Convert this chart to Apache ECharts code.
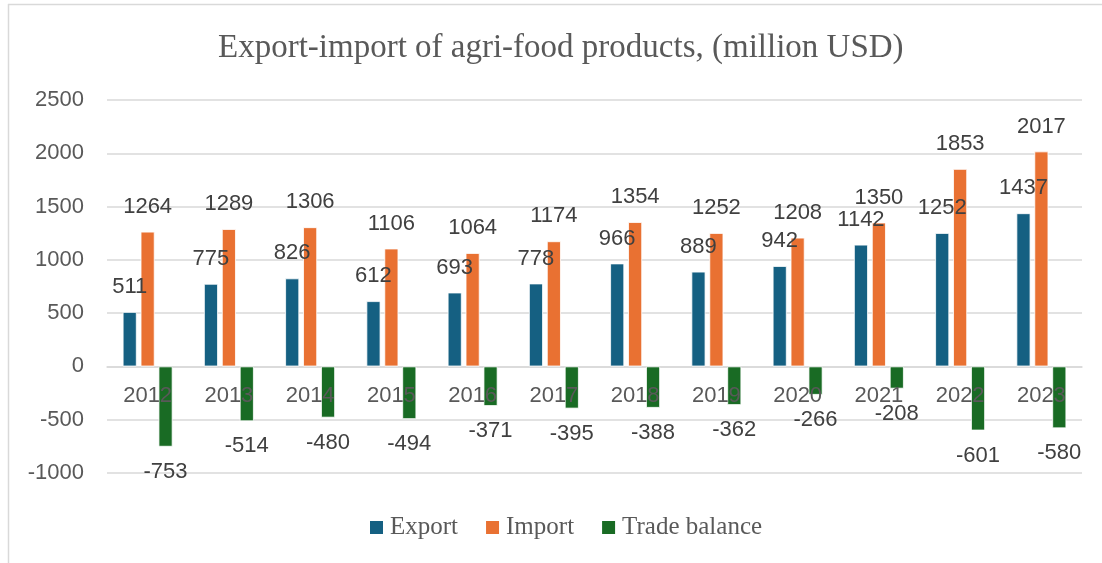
<!DOCTYPE html>
<html>
<head>
<meta charset="utf-8">
<title>Export-import of agri-food products</title>
<script src="https://cdn.jsdelivr.net/npm/echarts@6/dist/echarts.min.js"></script>
<style>
  html, body { margin: 0; padding: 0; background: #ffffff; }
  #chart { width: 1102px; height: 563px; }
</style>
</head>
<body>
<div id="chart"></div>
<script>
// Agri-food trade, million USD
const years = ['2012', '2013', '2014', '2015', '2016', '2017', '2018', '2019', '2020', '2021', '2022', '2023'];
const exportValues = [511, 775, 826, 612, 693, 778, 966, 889, 942, 1142, 1252, 1437];
const importValues = [1264, 1289, 1306, 1106, 1064, 1174, 1354, 1252, 1208, 1350, 1853, 2017];
const balanceValues = [-753, -514, -480, -494, -371, -395, -388, -362, -266, -208, -601, -580];

const seriesNames = ['Export', 'Import', 'Trade balance'];
const seriesColors = ['#156082', '#E97132', '#196B24'];

const yMin = -1000;
const yMax = 2500;
const yStep = 500;

const textColor = '#595959';
const labelColor = '#404040';
const gridColor = '#D9D9D9';
const sansFont = '"Liberation Sans", Arial, sans-serif';
const serifFont = '"Liberation Serif", "DejaVu Serif", serif';

// negative values get their label beneath the bar end
function withLabels(values) {
  return values.map(v => v < 0
    ? { value: v, label: { position: 'bottom' } }
    : { value: v });
}

function barSeries(name, values, color) {
  return {
    name: name,
    type: 'bar',
    barWidth: 14,
    barGap: '28%',
    data: withLabels(values),
    itemStyle: { color: color, borderColor: '#ffffff', borderWidth: 0.8 },
    label: {
      show: true,
      position: 'top',
      distance: 14,
      color: labelColor,
      fontFamily: sansFont,
      fontSize: 22
    },
    z: 2
  };
}

// year labels hang from the zero line and are painted over the bars
const yearLabels = {
  name: 'years',
  type: 'scatter',
  symbolSize: 0,
  silent: true,
  z: 5,
  itemStyle: { opacity: 1 },
  data: years.map(y => [y, 0]),
  label: {
    show: true,
    position: 'bottom',
    distance: 19,
    formatter: p => p.value[0],
    color: textColor,
    opacity: 1,
    fontFamily: sansFont,
    fontSize: 22
  }
};

const chart = echarts.init(document.getElementById('chart'), null, { renderer: 'canvas' });

chart.setOption({
  backgroundColor: '#ffffff',
  animation: false,
  title: {
    text: 'Export-import of agri-food products, (million USD)',
    left: 213,
    top: 27,
    textStyle: {
      color: textColor,
      fontFamily: serifFont,
      fontWeight: 'normal',
      fontSize: 33
    }
  },
  legend: {
    data: seriesNames,
    bottom: 18,
    left: 363,
    itemWidth: 15,
    itemHeight: 15,
    itemGap: 26,
    icon: 'rect',
    textStyle: {
      color: textColor,
      fontFamily: serifFont,
      fontSize: 25,
      padding: [0, 0, 0, 1]
    }
  },
  grid: { left: 107, right: 20, top: 100, bottom: 90, containLabel: false },
  xAxis: {
    type: 'category',
    data: years,
    axisLine: { onZero: true, lineStyle: { color: gridColor, width: 1.5 } },
    axisTick: { show: false },
    axisLabel: { show: false },
    splitLine: { show: false }
  },
  yAxis: {
    type: 'value',
    min: yMin,
    max: yMax,
    interval: yStep,
    axisLine: { show: false },
    axisTick: { show: false },
    axisLabel: {
      color: textColor,
      fontFamily: sansFont,
      fontSize: 22,
      margin: 23,
      formatter: v => String(v)
    },
    splitLine: { lineStyle: { color: gridColor, width: 1.5 } }
  },
  series: [
    barSeries(seriesNames[0], exportValues, seriesColors[0]),
    barSeries(seriesNames[1], importValues, seriesColors[1]),
    barSeries(seriesNames[2], balanceValues, seriesColors[2]),
    yearLabels
  ],
  graphic: [
    {
      type: 'line',
      shape: { x1: 8, y1: 4.5, x2: 1102, y2: 4.5 },
      style: { stroke: gridColor, lineWidth: 1.5 },
      silent: true
    },
    {
      type: 'line',
      shape: { x1: 8.5, y1: 4, x2: 8.5, y2: 563 },
      style: { stroke: gridColor, lineWidth: 1.5 },
      silent: true
    }
  ]
});
</script>
</body>
</html>
